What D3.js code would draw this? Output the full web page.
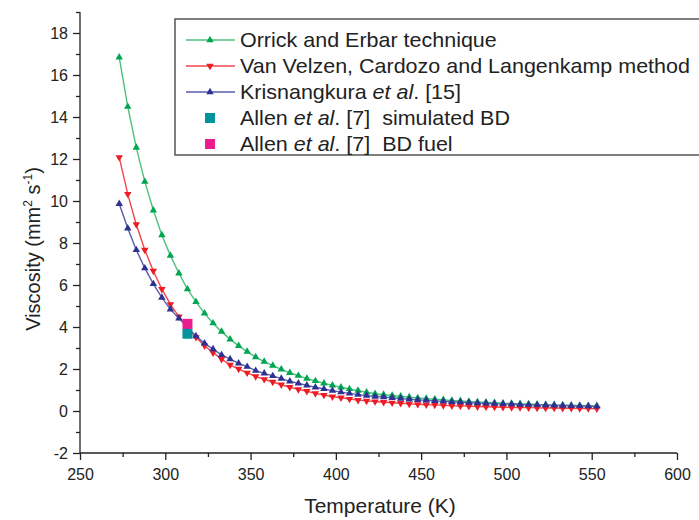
<!DOCTYPE html>
<html>
<head>
<meta charset="utf-8">
<script src="https://d3js.org/d3.v7.min.js"></script>
<style>
	body { margin: 0; background: #fff; }
	text { font-family: "Liberation Sans", Arial, sans-serif; fill: #222; }
	.axis path, .axis line { stroke: #222; stroke-width: 1.3; }
</style>
</head>
<body>
<svg width="699" height="520"></svg>
<script>

var temps = [273, 278, 283, 288, 293, 298, 303, 308, 313, 318, 323, 328, 333, 338, 343, 348, 353, 358, 363,
	368, 373, 378, 383, 388, 393, 398, 403, 408, 413, 418, 423, 428, 433, 438, 443, 448, 453, 458, 463,
	468, 473, 478, 483, 488, 493, 498, 503, 508, 513, 518, 523, 528, 533, 538, 543, 548, 553];

var orrick = [16.84, 14.49, 12.54, 10.92, 9.56, 8.38, 7.40, 6.56, 5.80, 5.20, 4.65, 4.18, 3.78, 3.41, 3.10,
	2.83, 2.57, 2.35, 2.16, 1.98, 1.82, 1.68, 1.54, 1.43, 1.32, 1.22, 1.13, 1.05, 0.97, 0.89, 0.82, 0.78,
	0.74, 0.70, 0.66, 0.62, 0.59, 0.56, 0.53, 0.50, 0.48, 0.45, 0.43, 0.41, 0.39, 0.37, 0.36, 0.34, 0.33,
	0.31, 0.30, 0.29, 0.28, 0.27, 0.26, 0.25, 0.24];

var vanVelzen = [12.08, 10.33, 8.88, 7.67, 6.67, 5.80, 5.08, 4.49, 3.95, 3.51, 3.11, 2.78, 2.47, 2.19, 2.00,
	1.82, 1.65, 1.51, 1.38, 1.25, 1.13, 1.03, 0.94, 0.84, 0.76, 0.68, 0.63, 0.57, 0.52, 0.48, 0.45, 0.42,
	0.39, 0.37, 0.34, 0.32, 0.30, 0.29, 0.27, 0.25, 0.24, 0.23, 0.21, 0.20, 0.19, 0.18, 0.17, 0.17, 0.16,
	0.15, 0.14, 0.14, 0.13, 0.13, 0.12, 0.12, 0.11];

var krisnangkura = [9.87, 8.70, 7.67, 6.80, 6.05, 5.40, 4.84, 4.41, 3.98, 3.57, 3.22, 2.95, 2.67, 2.47, 2.27,
	2.11, 1.92, 1.79, 1.67, 1.54, 1.41, 1.32, 1.22, 1.13, 1.05, 0.97, 0.90, 0.84, 0.78, 0.73, 0.69, 0.66,
	0.63, 0.59, 0.56, 0.53, 0.51, 0.48, 0.46, 0.44, 0.42, 0.40, 0.38, 0.37, 0.35, 0.34, 0.33, 0.31, 0.30,
	0.29, 0.28, 0.27, 0.26, 0.25, 0.24, 0.23, 0.22];

var allenSimT = [313], allenSim = [3.68];
var allenFuelT = [313], allenFuel = [4.15];

var xTicks = [250, 300, 350, 400, 450, 500, 550, 600];
var yTicks = [-2, 0, 2, 4, 6, 8, 10, 12, 14, 16, 18];

var svg = d3.select("svg");

var x = d3.scaleLinear().domain([250, 600]).range([80, 677]);
var y = d3.scaleLinear().domain([-2, 19]).range([453, 12]);

// axes
var xMinor = d3.range(275, 600, 50);
var yMinor = d3.range(-1, 20, 2);

svg.append("g").attr("class", "axis")
	.attr("transform", "translate(0,453)")
	.call(d3.axisBottom(x).tickValues(xMinor).tickSize(4).tickFormat(""));
var gx = svg.append("g").attr("class", "axis")
	.attr("transform", "translate(0,453)")
	.call(d3.axisBottom(x).tickValues(xTicks).tickSize(7).tickPadding(9).tickFormat(function(d) { return String(d); }));
gx.selectAll("text").style("font-size", "16px");

svg.append("g").attr("class", "axis")
	.attr("transform", "translate(80,0)")
	.call(d3.axisLeft(y).tickValues(yMinor).tickSize(4).tickFormat(""));
var gy = svg.append("g").attr("class", "axis")
	.attr("transform", "translate(80,0)")
	.call(d3.axisLeft(y).tickValues(yTicks).tickSize(7).tickPadding(5).tickFormat(function(d) { return String(d); }));
gy.selectAll("text").style("font-size", "16px");
svg.selectAll(".axis .domain").attr("d", null);
svg.append("line").attr("x1", 80).attr("x2", 80).attr("y1", y(19)).attr("y2", y(-2)).attr("stroke", "#222").attr("stroke-width", 1.3);
svg.append("line").attr("x1", 80).attr("x2", 677).attr("y1", 453).attr("y2", 453).attr("stroke", "#222").attr("stroke-width", 1.3);

// titles
svg.append("text")
	.attr("x", 380).attr("y", 513)
	.attr("text-anchor", "middle")
	.style("font-size", "21px")
	.text("Temperature (K)");

var yt = svg.append("text")
	.attr("transform", "translate(40,249) rotate(-90)")
	.attr("text-anchor", "middle")
	.style("font-size", "20px");
yt.append("tspan").text("Viscosity (mm");
yt.append("tspan").attr("dy", -8).style("font-size", "12px").text("2");
yt.append("tspan").attr("dy", 8).text(" s");
yt.append("tspan").attr("dy", -8).style("font-size", "12px").text("-1");
yt.append("tspan").attr("dy", 8).text(")");

// series
var series = [
	{name: "orrick", vals: orrick, line: "#4cc17e", fill: "#00a651", sym: d3.symbolTriangle, rot: 0},
	{name: "vanVelzen", vals: vanVelzen, line: "#f0474d", fill: "#ed1c24", sym: d3.symbolTriangle, rot: 180},
	{name: "krisnangkura", vals: krisnangkura, line: "#5a5cae", fill: "#2e3192", sym: d3.symbolTriangle, rot: 0}
];

var line = d3.line()
	.x(function(d) { return x(d[0]); })
	.y(function(d) { return y(d[1]); });

series.forEach(function(s) {
	var pts = temps.map(function(t, i) { return [t, s.vals[i]]; });
	svg.append("path")
		.datum(pts)
		.attr("fill", "none")
		.attr("stroke", s.line)
		.attr("stroke-width", 1.4)
		.attr("d", line);
	svg.selectAll(".m-" + s.name)
		.data(pts)
		.enter().append("path")
		.attr("class", "m-" + s.name)
		.attr("d", d3.symbol().type(s.sym).size(24))
		.attr("fill", s.fill)
		.attr("transform", function(d) { return "translate(" + x(d[0]) + "," + y(d[1]) + ") rotate(" + s.rot + ")"; });
});

// Allen points
function squares(ts, vs, color) {
	svg.selectAll(null)
		.data(ts.map(function(t, i) { return [t, vs[i]]; }))
		.enter().append("rect")
		.attr("x", function(d) { return x(d[0]) - 5; })
		.attr("y", function(d) { return y(d[1]) - 5; })
		.attr("width", 10).attr("height", 10)
		.attr("fill", color);
}
squares(allenSimT, allenSim, "#00939b");
squares(allenFuelT, allenFuel, "#ec1c8c");

// legend
var lg = svg.append("g");
lg.append("rect")
	.attr("x", 175).attr("y", 19).attr("width", 540).attr("height", 136)
	.attr("fill", "#fff").attr("stroke", "#555").attr("stroke-width", 1.5);

var legendRows = [
	{parts: [["Orrick and Erbar technique", false]], s: series[0]},
	{parts: [["Van Velzen, Cardozo and Langenkamp method", false]], s: series[1]},
	{parts: [["Krisnangkura ", false], ["et al", true], [". [15]", false]], s: series[2]},
	{parts: [["Allen ", false], ["et al", true], [". [7]\u00a0 simulated BD", false]], sq: "#00939b"},
	{parts: [["Allen ", false], ["et al", true], [". [7]\u00a0 BD fuel", false]], sq: "#ec1c8c"}
];

legendRows.forEach(function(r, i) {
	var cy = 40 + i * 26;
	if (r.s) {
		lg.append("line").attr("x1", 186).attr("x2", 235).attr("y1", cy).attr("y2", cy)
			.attr("stroke", r.s.line).attr("stroke-width", 1.4);
		lg.append("path").attr("d", d3.symbol().type(r.s.sym).size(24))
			.attr("fill", r.s.fill)
			.attr("transform", "translate(210," + cy + ") rotate(" + r.s.rot + ")");
	} else {
		lg.append("rect").attr("x", 205).attr("y", cy - 5).attr("width", 10).attr("height", 10).attr("fill", r.sq);
	}
	var t = lg.append("text")
		.attr("transform", "translate(240," + (cy + 7) + ") scale(1.075,1)")
		.style("font-size", "20px");
	r.parts.forEach(function(p) {
		t.append("tspan").style("font-style", p[1] ? "italic" : "normal").text(p[0]);
	});
});

</script>
</body>
</html>
